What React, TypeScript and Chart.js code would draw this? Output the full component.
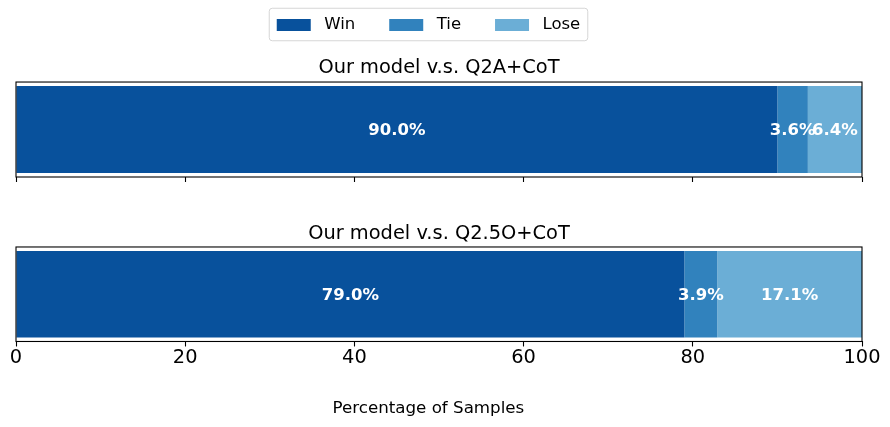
import React, { useEffect, useRef } from 'react';
import { Chart, registerables } from 'chart.js';

Chart.register(...registerables);

const seriesNames = ['Win', 'Tie', 'Lose'];
const seriesColors = ['#08519c', '#3182bd', '#6baed6'];
const comparisonTitles = ['Our model v.s. Q2A+CoT', 'Our model v.s. Q2.5O+CoT'];
const firstComparisonValues = [90.0, 3.6, 6.4];
const secondComparisonValues = [79.0, 3.9, 17.1];
const xTickValues = [0, 20, 40, 60, 80, 100];
const xAxisTitle = 'Percentage of Samples';

const FONT = "'DejaVu Sans', Verdana, sans-serif";
const LEGEND_FONT_SIZE = 16.5;
const LEGEND_BOX_W = 34;
// trailing blanks only nudge the centred legend / axis title slightly left
const CENTER_NUDGE = '\u00a0\u00a0\u00a0\u00a0';

const framePlugin = {
  id: 'axesFrame',
  afterDatasetsDraw(chart: any) {
    const { ctx, chartArea: a } = chart;
    ctx.save();
    ctx.strokeStyle = '#000';
    ctx.lineWidth = 1.1;
    ctx.strokeRect(a.left, a.top, a.right - a.left, a.bottom - a.top);
    ctx.restore();
  },
};

const valueLabelPlugin = {
  id: 'valueLabels',
  afterDatasetsDraw(chart: any) {
    const { ctx } = chart;
    ctx.save();
    ctx.fillStyle = '#ffffff';
    ctx.font = `bold 16.5px ${FONT}`;
    ctx.textAlign = 'center';
    ctx.textBaseline = 'middle';
    chart.data.datasets.forEach((ds: any, i: number) => {
      const meta = chart.getDatasetMeta(i);
      meta.data.forEach((el: any, j: number) => {
        const v = ds.data[j] as number;
        const p = el.getProps(['x', 'base', 'y'], true);
        ctx.fillText(`${v.toFixed(1)}%`, (p.x + p.base) / 2, p.y + 1);
      });
    });
    ctx.restore();
  },
};

const legendFramePlugin = {
  id: 'legendFrame',
  afterDraw(chart: any) {
    const lg = chart.legend;
    if (!lg || !lg.legendHitBoxes || !lg.legendHitBoxes.length) return;
    const boxes = lg.legendHitBoxes;
    const items = lg.legendItems;
    const ctx = chart.ctx;
    ctx.save();
    ctx.font = `${LEGEND_FONT_SIZE}px ${FONT}`;
    let l = Infinity, r = -Infinity, t = Infinity, b = -Infinity;
    boxes.forEach((h: any, i: number) => {
      const txt = String(items[i].text).replace(/[\s\u00a0]+$/, '');
      const w = LEGEND_BOX_W + LEGEND_FONT_SIZE / 2 + ctx.measureText(txt).width;
      l = Math.min(l, h.left);
      r = Math.max(r, h.left + w);
      t = Math.min(t, h.top);
      b = Math.max(b, h.top + h.height);
    });
    const x = l - 7.5, y = t - 8.5, w = r - l + 15, hgt = b - t + 16;
    ctx.strokeStyle = '#d6d6d6';
    ctx.lineWidth = 1;
    ctx.beginPath();
    const rad = 3;
    ctx.moveTo(x + rad, y);
    ctx.lineTo(x + w - rad, y);
    ctx.arcTo(x + w, y, x + w, y + rad, rad);
    ctx.lineTo(x + w, y + hgt - rad);
    ctx.arcTo(x + w, y + hgt, x + w - rad, y + hgt, rad);
    ctx.lineTo(x + rad, y + hgt);
    ctx.arcTo(x, y + hgt, x, y + hgt - rad, rad);
    ctx.lineTo(x, y + rad);
    ctx.arcTo(x, y, x + rad, y, rad);
    ctx.closePath();
    ctx.stroke();
    ctx.restore();
  },
};

function makeDatasets(values: number[]) {
  return seriesNames.map((name, i) => ({
    label: name,
    data: [values[i]],
    backgroundColor: seriesColors[i],
    borderWidth: 0,
    barPercentage: 0.915,
    categoryPercentage: 1,
  }));
}

function xScale(showLabels: boolean) {
  return {
    stacked: true,
    min: 0,
    max: 100,
    afterBuildTicks: (s: any) => {
      s.ticks = xTickValues.map((v) => ({ value: v }));
    },
    ticks: {
      display: showLabels,
      color: '#000',
      padding: 0,
      font: { family: FONT, size: 19.4 },
    },
    grid: {
      display: true,
      drawOnChartArea: false,
      drawTicks: true,
      tickLength: 5,
      tickColor: '#000',
      tickWidth: 1.1,
      color: '#000',
    },
    border: { display: false },
    title: showLabels
      ? {
          display: true,
          text: xAxisTitle + CENTER_NUDGE,
          color: '#000',
          font: { family: FONT, size: 16.7 },
          padding: { top: 28.7, bottom: 8.5 },
        }
      : { display: false },
  };
}

export default function App() {
  const topRef = useRef<HTMLCanvasElement | null>(null);
  const bottomRef = useRef<HTMLCanvasElement | null>(null);

  useEffect(() => {
    Chart.defaults.font.family = FONT;
    const top = new Chart(topRef.current as HTMLCanvasElement, {
      type: 'bar',
      data: { labels: [''], datasets: makeDatasets(firstComparisonValues) as any },
      options: {
        indexAxis: 'y',
        responsive: false,
        animation: false,
        layout: { padding: { top: -17.25, left: 16, right: 28, bottom: 245 } },
        plugins: {
          legend: {
            display: true,
            position: 'top',
            weight: 5000,
            labels: {
              boxWidth: LEGEND_BOX_W,
              boxHeight: 12,
              padding: 34,
              color: '#000',
              font: { family: FONT, size: LEGEND_FONT_SIZE },
              generateLabels: (chart: any) => {
                const items = (Chart.defaults.plugins.legend.labels.generateLabels as any)(chart);
                return items.map((it: any, i: number) => ({
                  ...it,
                  text: ' ' + it.text + (i === items.length - 1 ? CENTER_NUDGE : ''),
                  lineWidth: 0,
                }));
              },
            },
          } as any,
          title: {
            display: true,
            text: comparisonTitles[0],
            color: '#000',
            weight: 100,
            font: { family: FONT, size: 19.4, weight: 'normal' },
            padding: { top: 13.1, bottom: 2.4 },
          } as any,
          tooltip: { enabled: false },
        },
        scales: {
          x: xScale(false) as any,
          y: { stacked: true, display: false },
        },
      },
      plugins: [framePlugin, valueLabelPlugin, legendFramePlugin],
    });

    const bottom = new Chart(bottomRef.current as HTMLCanvasElement, {
      type: 'bar',
      data: { labels: [''], datasets: makeDatasets(secondComparisonValues) as any },
      options: {
        indexAxis: 'y',
        responsive: false,
        animation: false,
        layout: { padding: { top: 210, left: 16, right: 28, bottom: 0 } },
        plugins: {
          legend: { display: false },
          title: {
            display: true,
            text: comparisonTitles[1],
            color: '#000',
            font: { family: FONT, size: 19.4, weight: 'normal' },
            padding: { top: 12.35, bottom: 1.35 },
          },
          tooltip: { enabled: false },
        },
        scales: {
          x: xScale(true) as any,
          y: { stacked: true, display: false },
        },
      },
      plugins: [framePlugin, valueLabelPlugin],
    });

    return () => {
      top.destroy();
      bottom.destroy();
    };
  }, []);

  return (
    <div style={{ position: 'fixed', left: 0, top: 0, width: 890, height: 427, background: '#fff' }}>
      <canvas ref={topRef} width={890} height={427} style={{ position: 'absolute', left: 0, top: 0 }} />
      <canvas ref={bottomRef} width={890} height={427} style={{ position: 'absolute', left: 0, top: 0 }} />
    </div>
  );
}
